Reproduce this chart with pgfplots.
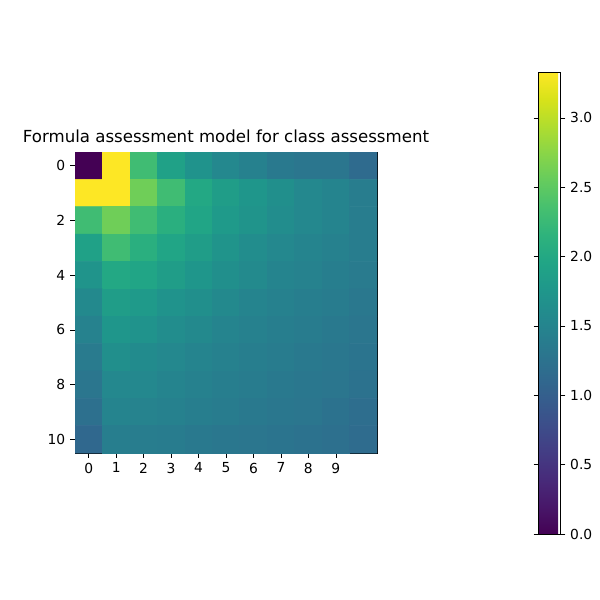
\documentclass[border=0pt]{standalone}
\usepackage{pgfplots}
\pgfplotsset{compat=1.18}
\usepackage{fontspec}
\setmainfont{DejaVu Sans}
\begin{document}
\begin{tikzpicture}
\path[use as bounding box] (0,0) rectangle (6in,6in);
\begin{axis}[at={(0.75in,1.47in)}, anchor=south west, scale only axis,
 width=3.02in, height=3.01in, y dir=reverse,
 xmin=-0.5, xmax=10.5, ymin=-0.5, ymax=10.5,
 xtick={0,...,9}, ytick={0,2,...,10},
 tick align=outside, tick style={black, thin}, major tick length=3.5pt,
 xtick pos=bottom, ytick pos=left,
 tick label style={font=\fontsize{10}{12}\selectfont},
 /pgf/number format/assume math mode=true,
 title={Formula assessment model for class assessment},
 title style={font=\fontsize{12}{14}\selectfont, yshift=-3pt},
 colormap name=viridis, point meta min=0, point meta max=3.33,
 colorbar,
 colorbar style={xshift=0.93in, yshift=0.8in,
   width=0.22in, height=4.62in, ytick={0,0.5,...,3.0},
   yticklabel style={font=\fontsize{10}{12}\selectfont, /pgf/number format/.cd, fixed, fixed zerofill, precision=1, assume math mode=true},
   tick align=outside, major tick length=3.5pt, tick style={black,thin}},
]
\addplot[matrix plot*, mesh/cols=11, point meta=explicit] table[meta=c] {
x y c
0 0 0
1 0 3.33
2 0 2.3
3 0 1.9
4 0 1.7
5 0 1.55
6 0 1.45
7 0 1.35
8 0 1.3
9 0 1.3
10 0 1.15
0 1 3.33
1 1 3.33
2 1 2.6
3 1 2.3
4 1 2.0
5 1 1.85
6 1 1.75
7 1 1.65
8 1 1.55
9 1 1.5
10 1 1.4
0 2 2.3
1 2 2.6
2 2 2.3
3 2 2.1
4 2 1.95
5 2 1.8
6 2 1.72
7 2 1.62
8 2 1.55
9 2 1.5
10 2 1.4
0 3 1.9
1 3 2.3
2 3 2.1
3 3 1.95
4 3 1.85
5 3 1.72
6 3 1.62
7 3 1.55
8 3 1.5
9 3 1.45
10 3 1.4
0 4 1.72
1 4 2.0
2 4 1.95
3 4 1.85
4 4 1.75
5 4 1.65
6 4 1.58
7 4 1.5
8 4 1.47
9 4 1.42
10 4 1.37
0 5 1.57
1 5 1.85
2 5 1.8
3 5 1.7
4 5 1.65
5 5 1.57
6 5 1.5
7 5 1.45
8 5 1.42
9 5 1.38
10 5 1.33
0 6 1.47
1 6 1.75
2 6 1.7
3 6 1.62
4 6 1.57
5 6 1.5
6 6 1.45
7 6 1.42
8 6 1.38
9 6 1.35
10 6 1.3
0 7 1.37
1 7 1.65
2 7 1.6
3 7 1.55
4 7 1.5
5 7 1.45
6 7 1.42
7 7 1.38
8 7 1.35
9 7 1.32
10 7 1.28
0 8 1.3
1 8 1.55
2 8 1.55
3 8 1.5
4 8 1.45
5 8 1.42
6 8 1.38
7 8 1.35
8 8 1.32
9 8 1.3
10 8 1.25
0 9 1.22
1 9 1.5
2 9 1.48
3 9 1.45
4 9 1.42
5 9 1.38
6 9 1.35
7 9 1.32
8 9 1.3
9 9 1.25
10 9 1.2
0 10 1.12
1 10 1.42
2 10 1.4
3 10 1.38
4 10 1.35
5 10 1.32
6 10 1.3
7 10 1.28
8 10 1.25
9 10 1.22
10 10 1.17
};
\end{axis}
\end{tikzpicture}
\end{document}
